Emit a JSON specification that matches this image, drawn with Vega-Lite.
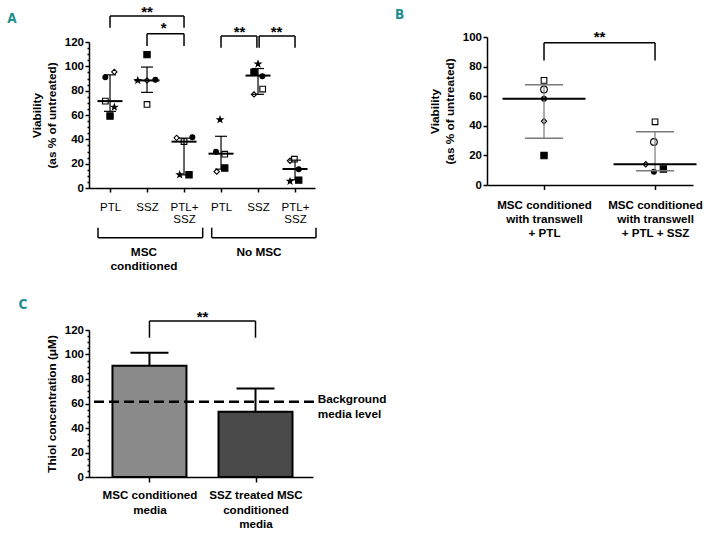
{
  "$schema": "https://vega.github.io/schema/vega-lite/v6.json",
  "padding": {"left": 7, "top": 4, "right": 5, "bottom": 4},
  "columns": 2,
  "bounds": "flush",
  "spacing": {"column": 172, "row": 142},
  "config": {
    "view": {"stroke": null},
    "font": "Liberation Sans, Arial, sans-serif",
    "axis": {"grid": false, "domainColor": "#000", "domainWidth": 1.5, "tickColor": "#000", "tickWidth": 1.5, "labelColor": "#000", "titleColor": "#000", "labelFont": "Liberation Sans, Arial, sans-serif", "titleFont": "Liberation Sans, Arial, sans-serif", "labelFontWeight": "bold", "titleFontWeight": "bold", "labelFontSize": 11.5, "titleFontSize": 11.8, "labelOverlap": false, "labelFlush": false, "labelBound": false, "tickCount": 40},
    "legend": {"disable": true}
  },
  "datasets": {
    "aPts": [
      {"x": 0.874, "y": 91.1, "m": "fc"}, {"x": 1.117, "y": 95.4, "m": "od"}, {"x": 0.874, "y": 71.4, "m": "os"}, {"x": 1.117, "y": 66.5, "m": "st"}, {"x": 1.0, "y": 59.2, "m": "fs"},
      {"x": 2.0, "y": 109.6, "m": "fs"}, {"x": 1.75, "y": 88.4, "m": "st"}, {"x": 2.0, "y": 88.4, "m": "od"}, {"x": 2.225, "y": 88.9, "m": "fc"}, {"x": 2.0, "y": 68.7, "m": "os"},
      {"x": 2.8, "y": 41.2, "m": "od"}, {"x": 3.225, "y": 41.7, "m": "fc"}, {"x": 3.0, "y": 38.2, "m": "os"}, {"x": 2.883, "y": 10.9, "m": "st"}, {"x": 3.135, "y": 10.9, "m": "fs"},
      {"x": 3.973, "y": 56.2, "m": "st"}, {"x": 3.865, "y": 29.7, "m": "fc"}, {"x": 4.1, "y": 27.8, "m": "os"}, {"x": 3.883, "y": 13.4, "m": "od"}, {"x": 4.1, "y": 16.4, "m": "fs"},
      {"x": 5.0, "y": 102, "m": "st"}, {"x": 4.892, "y": 95.2, "m": "fs"}, {"x": 5.117, "y": 91.9, "m": "fc"}, {"x": 4.892, "y": 76.9, "m": "od"}, {"x": 5.126, "y": 81.3, "m": "os"},
      {"x": 5.982, "y": 23.7, "m": "os"}, {"x": 5.865, "y": 22.4, "m": "od"}, {"x": 6.1, "y": 15.5, "m": "fc"}, {"x": 5.865, "y": 5.5, "m": "st"}, {"x": 6.1, "y": 6.5, "m": "fs"}
    ],
    "aStats": [
      {"x": 1, "y": 71.4, "lo": 63, "hi": 93},
      {"x": 2, "y": 88.4, "lo": 78.6, "hi": 99.4},
      {"x": 3, "y": 38.1, "lo": 10.8, "hi": 41},
      {"x": 4, "y": 28.2, "lo": 15.5, "hi": 42.5},
      {"x": 5, "y": 92.4, "lo": 77, "hi": 98.2},
      {"x": 6, "y": 15.6, "lo": 6.8, "hi": 22.9}
    ],
    "aBr": [
      {"x": 1, "x2": 3, "y": 141.4, "yd": 131.7},
      {"x": 2, "x2": 3, "y": 126.8, "yd": 116.7},
      {"x": 4, "x2": 4.97, "y": 124.9, "yd": 115.3},
      {"x": 5.03, "x2": 6, "y": 124.9, "yd": 115.3}
    ],
    "aSig": [
      {"t": "**", "x": 2, "y": 140.8},
      {"t": "*", "x": 2.45, "y": 127.8},
      {"t": "**", "x": 4.5, "y": 123.7},
      {"t": "**", "x": 5.5, "y": 123.7}
    ],
    "aGrpBr": [
      {"x": 0.675, "x2": 3.505, "y": -40.8, "yd": -32.6},
      {"x": 3.748, "x2": 6.567, "y": -40.8, "yd": -32.6}
    ],
    "aGrp": [
      {"t": "MSC", "x": 1.918, "y": -52.4},
      {"t": "conditioned", "x": 1.918, "y": -64.1},
      {"t": "No MSC", "x": 5.027, "y": -52.4}
    ],
    "aLet": [{"t": "A", "x": -1.776, "y": 135.9}],
    "bPts": [
      {"x": 1, "y": 70.7, "m": "os"}, {"x": 1, "y": 64.6, "m": "oc"}, {"x": 1, "y": 58.2, "m": "fc"}, {"x": 1, "y": 43.1, "m": "od"}, {"x": 1, "y": 19.9, "m": "fs"},
      {"x": 2, "y": 42.7, "m": "os"}, {"x": 1.99, "y": 29.1, "m": "oc"}, {"x": 1.916, "y": 14.0, "m": "od"}, {"x": 1.99, "y": 9.0, "m": "fc"}, {"x": 2.075, "y": 10.8, "m": "fs"}
    ],
    "bStats": [
      {"x": 1, "y": 58.2, "lo": 31.6, "hi": 67.7},
      {"x": 2, "y": 14.0, "lo": 9.7, "hi": 35.9}
    ],
    "bBr": [{"x": 1, "x2": 2, "y": 96.1, "yd": 84.2}],
    "bSig": [{"t": "**", "x": 1.5, "y": 96.8}],
    "bLet": [{"t": "B", "x": -0.342, "y": 112}],
    "cBar": [
      {"x": 1, "y": 90.8, "hi": 101.4, "g": "a"},
      {"x": 2, "y": 53.2, "hi": 72.3, "g": "b"}
    ],
    "cDash": [{"x": 0.477, "x2": 2.56, "y": 61.5}],
    "cNote": [
      {"t": "Background", "x": 2.586, "y": 63.8},
      {"t": "media level", "x": 2.586, "y": 51.5}
    ],
    "cBr": [{"x": 1, "x2": 2, "y": 127.4, "yd": 113.7}],
    "cSig": [{"t": "**", "x": 1.5, "y": 126.4}],
    "cLet": [{"t": "C", "x": -0.235, "y": 136.9}]
  },
  "concat": [
    {
      "width": 226,
      "height": 151,
      "layer": [
        {
          "data": {"name": "aPts"},
          "mark": {"type": "point", "filled": true, "stroke": "#000", "strokeWidth": 1.1, "opacity": 1},
          "encoding": {
            "x": {"field": "x", "type": "quantitative", "scale": {"domain": [0.432, 6.54], "nice": false, "zero": false},
              "axis": {"values": [1, 2, 3, 4, 5, 6], "tickCount": 20, "title": null, "tickSize": 4, "labelPadding": 9, "labelFontWeight": "normal", "labelFontSize": 11.5, "labelLineHeight": 12.3,
                "labelExpr": "datum.value == 3 || datum.value == 6 ? ['PTL+', 'SSZ'] : (datum.value == 1 || datum.value == 4 ? 'PTL' : 'SSZ')"}},
            "y": {"field": "y", "type": "quantitative", "scale": {"domain": [0, 120], "range": [151, 5], "nice": false, "zero": false},
              "axis": {"values": [0, 5, 10, 15, 20, 25, 30, 35, 40, 45, 50, 55, 60, 65, 70, 75, 80, 85, 90, 95, 100, 105, 110, 115, 120], "tickCount": 40, "labelOverlap": false,
                "labelExpr": "datum.value % 20 === 0 ? datum.label : ''",
                "tickSize": {"condition": {"test": "datum.value % 20 === 0", "value": 4}, "value": 2},
                "labelPadding": 1.5, "title": ["Viability", "(as % of untreated)"], "titleLineHeight": 15, "titlePadding": 7}},
            "shape": {"field": "m", "type": "nominal", "legend": null, "scale": {"domain": ["fc", "od", "os", "st", "fs", "oc"], "range": ["circle", "diamond", "square", "M0,-1L0.235,-0.324L0.951,-0.309L0.38,0.124L0.588,0.809L0,0.4L-0.588,0.809L-0.38,0.124L-0.951,-0.309L-0.235,-0.324Z", "square", "circle"]}},
            "fill": {"field": "m", "type": "nominal", "legend": null, "scale": {"domain": ["fc", "od", "os", "st", "fs", "oc"], "range": ["#000", "#fff", "#fff", "#000", "#000", "#fff"]}},
            "size": {"field": "m", "type": "nominal", "legend": null, "scale": {"domain": ["fc", "od", "os", "st", "fs", "oc"], "range": [24, 44, 38, 42, 36, 42]}}
          }
        },
        {
          "data": {"name": "aStats"},
          "mark": {"type": "rule", "color": "#000", "strokeWidth": 1.2},
          "encoding": {
            "x": {"field": "x", "type": "quantitative", "scale": {"domain": [0.432, 6.54], "nice": false, "zero": false}},
            "y": {"field": "lo", "type": "quantitative", "scale": {"domain": [0, 120], "range": [151, 5], "nice": false, "zero": false}},
            "y2": {"field": "hi"}
          }
        },
        {
          "data": {"name": "aStats"},
          "mark": {"type": "tick", "orient": "horizontal", "color": "#000", "size": 12, "thickness": 1.2, "opacity": 1},
          "encoding": {
            "x": {"field": "x", "type": "quantitative", "scale": {"domain": [0.432, 6.54], "nice": false, "zero": false}},
            "y": {"field": "hi", "type": "quantitative", "scale": {"domain": [0, 120], "range": [151, 5], "nice": false, "zero": false}}
          }
        },
        {
          "data": {"name": "aStats"},
          "mark": {"type": "tick", "orient": "horizontal", "color": "#000", "size": 12, "thickness": 1.2, "opacity": 1},
          "encoding": {
            "x": {"field": "x", "type": "quantitative", "scale": {"domain": [0.432, 6.54], "nice": false, "zero": false}},
            "y": {"field": "lo", "type": "quantitative", "scale": {"domain": [0, 120], "range": [151, 5], "nice": false, "zero": false}}
          }
        },
        {
          "data": {"name": "aStats"},
          "mark": {"type": "tick", "orient": "horizontal", "color": "#000", "size": 25, "thickness": 2, "opacity": 1},
          "encoding": {
            "x": {"field": "x", "type": "quantitative", "scale": {"domain": [0.432, 6.54], "nice": false, "zero": false}},
            "y": {"field": "y", "type": "quantitative", "scale": {"domain": [0, 120], "range": [151, 5], "nice": false, "zero": false}}
          }
        },
        {
          "data": {"name": "aBr"},
          "mark": {"type": "rule", "color": "#000", "strokeWidth": 1.5},
          "encoding": {
            "x": {"field": "x", "type": "quantitative", "scale": {"domain": [0.432, 6.54], "nice": false, "zero": false}},
            "x2": {"field": "x2"},
            "y": {"field": "y", "type": "quantitative", "scale": {"domain": [0, 120], "range": [151, 5], "nice": false, "zero": false}}
          }
        },
        {
          "data": {"name": "aBr"},
          "mark": {"type": "rule", "color": "#000", "strokeWidth": 1.5},
          "encoding": {
            "x": {"field": "x", "type": "quantitative", "scale": {"domain": [0.432, 6.54], "nice": false, "zero": false}},
            "y": {"field": "y", "type": "quantitative", "scale": {"domain": [0, 120], "range": [151, 5], "nice": false, "zero": false}},
            "y2": {"field": "yd"}
          }
        },
        {
          "data": {"name": "aBr"},
          "mark": {"type": "rule", "color": "#000", "strokeWidth": 1.5},
          "encoding": {
            "x": {"field": "x2", "type": "quantitative", "scale": {"domain": [0.432, 6.54], "nice": false, "zero": false}},
            "y": {"field": "y", "type": "quantitative", "scale": {"domain": [0, 120], "range": [151, 5], "nice": false, "zero": false}},
            "y2": {"field": "yd"}
          }
        },
        {
          "data": {"name": "aSig"},
          "mark": {"type": "text", "fontSize": 15, "fontWeight": "bold", "baseline": "alphabetic", "align": "center", "color": "#000"},
          "encoding": {
            "x": {"field": "x", "type": "quantitative", "scale": {"domain": [0.432, 6.54], "nice": false, "zero": false}},
            "y": {"field": "y", "type": "quantitative", "scale": {"domain": [0, 120], "range": [151, 5], "nice": false, "zero": false}},
            "text": {"field": "t"}
          }
        },
        {
          "data": {"name": "aGrpBr"},
          "mark": {"type": "rule", "color": "#000", "strokeWidth": 1.5},
          "encoding": {
            "x": {"field": "x", "type": "quantitative", "scale": {"domain": [0.432, 6.54], "nice": false, "zero": false}},
            "x2": {"field": "x2"},
            "y": {"field": "y", "type": "quantitative", "scale": {"domain": [0, 120], "range": [151, 5], "nice": false, "zero": false}}
          }
        },
        {
          "data": {"name": "aGrpBr"},
          "mark": {"type": "rule", "color": "#000", "strokeWidth": 1.5},
          "encoding": {
            "x": {"field": "x", "type": "quantitative", "scale": {"domain": [0.432, 6.54], "nice": false, "zero": false}},
            "y": {"field": "y", "type": "quantitative", "scale": {"domain": [0, 120], "range": [151, 5], "nice": false, "zero": false}},
            "y2": {"field": "yd"}
          }
        },
        {
          "data": {"name": "aGrpBr"},
          "mark": {"type": "rule", "color": "#000", "strokeWidth": 1.5},
          "encoding": {
            "x": {"field": "x2", "type": "quantitative", "scale": {"domain": [0.432, 6.54], "nice": false, "zero": false}},
            "y": {"field": "y", "type": "quantitative", "scale": {"domain": [0, 120], "range": [151, 5], "nice": false, "zero": false}},
            "y2": {"field": "yd"}
          }
        },
        {
          "data": {"name": "aGrp"},
          "mark": {"type": "text", "fontSize": 11.8, "fontWeight": "bold", "baseline": "middle", "align": "center", "color": "#000"},
          "encoding": {
            "x": {"field": "x", "type": "quantitative", "scale": {"domain": [0.432, 6.54], "nice": false, "zero": false}},
            "y": {"field": "y", "type": "quantitative", "scale": {"domain": [0, 120], "range": [151, 5], "nice": false, "zero": false}},
            "text": {"field": "t"}
          }
        },
        {
          "data": {"name": "aLet"},
          "mark": {"type": "text", "fontSize": 13.5, "fontWeight": "bold", "font": "Liberation Sans Narrow, DejaVu Sans Condensed, sans-serif", "baseline": "alphabetic", "align": "left", "color": "#1f8f8e"},
          "encoding": {
            "x": {"field": "x", "type": "quantitative", "scale": {"domain": [0.432, 6.54], "nice": false, "zero": false}},
            "y": {"field": "y", "type": "quantitative", "scale": {"domain": [0, 120], "range": [151, 5], "nice": false, "zero": false}},
            "text": {"field": "t"}
          }
        }
      ]
    },
    {
      "width": 206,
      "height": 148,
      "layer": [
        {
          "data": {"name": "bPts"},
          "mark": {"type": "point", "filled": true, "stroke": "#000", "strokeWidth": 1.1, "opacity": 1},
          "encoding": {
            "x": {"field": "x", "type": "quantitative", "scale": {"domain": [0.4865, 2.342], "nice": false, "zero": false},
              "axis": {"values": [1, 2], "tickCount": 20, "title": null, "tickSize": 4.5, "labelPadding": 10, "labelFontSize": 11.6, "labelLineHeight": 13.9,
                "labelExpr": "datum.value == 1 ? ['MSC conditioned', 'with transwell', '+ PTL'] : ['MSC conditioned', 'with transwell', '+ PTL + SSZ']"}},
            "y": {"field": "y", "type": "quantitative", "scale": {"domain": [0, 100], "nice": false, "zero": false},
              "axis": {"values": [0, 20, 40, 60, 80, 100], "tickCount": 20, "tickSize": 4, "labelPadding": 1.5, "title": ["Viability", "(as % of untreated)"], "titleLineHeight": 15, "titlePadding": 7}},
            "shape": {"field": "m", "type": "nominal", "legend": null, "scale": {"domain": ["fc", "od", "os", "st", "fs", "oc"], "range": ["circle", "diamond", "square", "M0,-1L0.235,-0.324L0.951,-0.309L0.38,0.124L0.588,0.809L0,0.4L-0.588,0.809L-0.38,0.124L-0.951,-0.309L-0.235,-0.324Z", "square", "circle"]}},
            "fill": {"field": "m", "type": "nominal", "legend": null, "scale": {"domain": ["fc", "od", "os", "st", "fs", "oc"], "range": ["#000", "#fff", "#fff", "#000", "#000", "#fff"]}},
            "size": {"field": "m", "type": "nominal", "legend": null, "scale": {"domain": ["fc", "od", "os", "st", "fs", "oc"], "range": [24, 44, 38, 42, 36, 42]}}
          }
        },
        {
          "data": {"name": "bStats"},
          "mark": {"type": "rule", "color": "#7a7a7a", "strokeWidth": 1.2},
          "encoding": {
            "x": {"field": "x", "type": "quantitative", "scale": {"domain": [0.4865, 2.342], "nice": false, "zero": false}},
            "y": {"field": "lo", "type": "quantitative", "scale": {"domain": [0, 100], "nice": false, "zero": false}},
            "y2": {"field": "hi"}
          }
        },
        {
          "data": {"name": "bStats"},
          "mark": {"type": "tick", "orient": "horizontal", "color": "#7a7a7a", "size": 38, "thickness": 1.5, "opacity": 1},
          "encoding": {
            "x": {"field": "x", "type": "quantitative", "scale": {"domain": [0.4865, 2.342], "nice": false, "zero": false}},
            "y": {"field": "hi", "type": "quantitative", "scale": {"domain": [0, 100], "nice": false, "zero": false}}
          }
        },
        {
          "data": {"name": "bStats"},
          "mark": {"type": "tick", "orient": "horizontal", "color": "#7a7a7a", "size": 38, "thickness": 1.5, "opacity": 1},
          "encoding": {
            "x": {"field": "x", "type": "quantitative", "scale": {"domain": [0.4865, 2.342], "nice": false, "zero": false}},
            "y": {"field": "lo", "type": "quantitative", "scale": {"domain": [0, 100], "nice": false, "zero": false}}
          }
        },
        {
          "data": {"name": "bStats"},
          "mark": {"type": "tick", "orient": "horizontal", "color": "#000", "size": 83, "thickness": 2, "opacity": 1},
          "encoding": {
            "x": {"field": "x", "type": "quantitative", "scale": {"domain": [0.4865, 2.342], "nice": false, "zero": false}},
            "y": {"field": "y", "type": "quantitative", "scale": {"domain": [0, 100], "nice": false, "zero": false}}
          }
        },
        {
          "data": {"name": "bBr"},
          "mark": {"type": "rule", "color": "#000", "strokeWidth": 1.5},
          "encoding": {
            "x": {"field": "x", "type": "quantitative", "scale": {"domain": [0.4865, 2.342], "nice": false, "zero": false}},
            "x2": {"field": "x2"},
            "y": {"field": "y", "type": "quantitative", "scale": {"domain": [0, 100], "nice": false, "zero": false}}
          }
        },
        {
          "data": {"name": "bBr"},
          "mark": {"type": "rule", "color": "#000", "strokeWidth": 1.5},
          "encoding": {
            "x": {"field": "x", "type": "quantitative", "scale": {"domain": [0.4865, 2.342], "nice": false, "zero": false}},
            "y": {"field": "y", "type": "quantitative", "scale": {"domain": [0, 100], "nice": false, "zero": false}},
            "y2": {"field": "yd"}
          }
        },
        {
          "data": {"name": "bBr"},
          "mark": {"type": "rule", "color": "#000", "strokeWidth": 1.5},
          "encoding": {
            "x": {"field": "x2", "type": "quantitative", "scale": {"domain": [0.4865, 2.342], "nice": false, "zero": false}},
            "y": {"field": "y", "type": "quantitative", "scale": {"domain": [0, 100], "nice": false, "zero": false}},
            "y2": {"field": "yd"}
          }
        },
        {
          "data": {"name": "bSig"},
          "mark": {"type": "text", "fontSize": 15, "fontWeight": "bold", "baseline": "alphabetic", "align": "center", "color": "#000"},
          "encoding": {
            "x": {"field": "x", "type": "quantitative", "scale": {"domain": [0.4865, 2.342], "nice": false, "zero": false}},
            "y": {"field": "y", "type": "quantitative", "scale": {"domain": [0, 100], "nice": false, "zero": false}},
            "text": {"field": "t"}
          }
        },
        {
          "data": {"name": "bLet"},
          "mark": {"type": "text", "fontSize": 13.5, "fontWeight": "bold", "font": "Liberation Sans Narrow, DejaVu Sans Condensed, sans-serif", "baseline": "alphabetic", "align": "left", "color": "#1f8f8e"},
          "encoding": {
            "x": {"field": "x", "type": "quantitative", "scale": {"domain": [0.4865, 2.342], "nice": false, "zero": false}},
            "y": {"field": "y", "type": "quantitative", "scale": {"domain": [0, 100], "nice": false, "zero": false}},
            "text": {"field": "t"}
          }
        }
      ]
    },
    {
      "width": 224,
      "height": 147,
      "layer": [
        {
          "data": {"name": "cBar"},
          "mark": {"type": "bar", "orient": "vertical", "size": 74, "stroke": "#000", "strokeWidth": 2},
          "encoding": {
            "x": {"field": "x", "type": "quantitative", "scale": {"domain": [0.477, 2.495], "nice": false, "zero": false},
              "axis": {"values": [1, 2], "tickCount": 20, "title": null, "tickSize": 5, "labelPadding": 7.5, "labelFontSize": 11.6, "labelLineHeight": 14.7,
                "labelExpr": "datum.value == 1 ? ['MSC conditioned', 'media'] : ['SSZ treated MSC', 'conditioned', 'media']"}},
            "y": {"field": "y", "type": "quantitative", "scale": {"domain": [0, 120], "nice": false, "zero": false},
              "axis": {"values": [0, 5, 10, 15, 20, 25, 30, 35, 40, 45, 50, 55, 60, 65, 70, 75, 80, 85, 90, 95, 100, 105, 110, 115, 120], "tickCount": 40, "labelOverlap": false,
                "labelExpr": "datum.value % 20 === 0 ? datum.label : ''",
                "tickSize": {"condition": {"test": "datum.value % 20 === 0", "value": 4}, "value": 2},
                "labelPadding": 1.5, "title": "Thiol concentration (μM)", "titlePadding": 7}},
            "y2": {"datum": 0},
            "color": {"field": "g", "type": "nominal", "legend": null, "scale": {"domain": ["a", "b"], "range": ["#8a8a8a", "#4a4a4a"]}}
          }
        },
        {
          "data": {"name": "cBar"},
          "mark": {"type": "rule", "color": "#000", "strokeWidth": 2},
          "encoding": {
            "x": {"field": "x", "type": "quantitative", "scale": {"domain": [0.477, 2.495], "nice": false, "zero": false}},
            "y": {"field": "y", "type": "quantitative", "scale": {"domain": [0, 120], "nice": false, "zero": false}},
            "y2": {"field": "hi"}
          }
        },
        {
          "data": {"name": "cBar"},
          "mark": {"type": "tick", "orient": "horizontal", "color": "#000", "size": 38, "thickness": 2, "opacity": 1},
          "encoding": {
            "x": {"field": "x", "type": "quantitative", "scale": {"domain": [0.477, 2.495], "nice": false, "zero": false}},
            "y": {"field": "hi", "type": "quantitative", "scale": {"domain": [0, 120], "nice": false, "zero": false}}
          }
        },
        {
          "data": {"name": "cDash"},
          "mark": {"type": "rule", "color": "#000", "strokeWidth": 2.5, "strokeDash": [10, 5]},
          "encoding": {
            "x": {"field": "x", "type": "quantitative", "scale": {"domain": [0.477, 2.495], "nice": false, "zero": false}},
            "x2": {"field": "x2"},
            "y": {"field": "y", "type": "quantitative", "scale": {"domain": [0, 120], "nice": false, "zero": false}}
          }
        },
        {
          "data": {"name": "cNote"},
          "mark": {"type": "text", "fontSize": 11.8, "fontWeight": "bold", "baseline": "middle", "align": "left", "color": "#000"},
          "encoding": {
            "x": {"field": "x", "type": "quantitative", "scale": {"domain": [0.477, 2.495], "nice": false, "zero": false}},
            "y": {"field": "y", "type": "quantitative", "scale": {"domain": [0, 120], "nice": false, "zero": false}},
            "text": {"field": "t"}
          }
        },
        {
          "data": {"name": "cBr"},
          "mark": {"type": "rule", "color": "#000", "strokeWidth": 1.5},
          "encoding": {
            "x": {"field": "x", "type": "quantitative", "scale": {"domain": [0.477, 2.495], "nice": false, "zero": false}},
            "x2": {"field": "x2"},
            "y": {"field": "y", "type": "quantitative", "scale": {"domain": [0, 120], "nice": false, "zero": false}}
          }
        },
        {
          "data": {"name": "cBr"},
          "mark": {"type": "rule", "color": "#000", "strokeWidth": 1.5},
          "encoding": {
            "x": {"field": "x", "type": "quantitative", "scale": {"domain": [0.477, 2.495], "nice": false, "zero": false}},
            "y": {"field": "y", "type": "quantitative", "scale": {"domain": [0, 120], "nice": false, "zero": false}},
            "y2": {"field": "yd"}
          }
        },
        {
          "data": {"name": "cBr"},
          "mark": {"type": "rule", "color": "#000", "strokeWidth": 1.5},
          "encoding": {
            "x": {"field": "x2", "type": "quantitative", "scale": {"domain": [0.477, 2.495], "nice": false, "zero": false}},
            "y": {"field": "y", "type": "quantitative", "scale": {"domain": [0, 120], "nice": false, "zero": false}},
            "y2": {"field": "yd"}
          }
        },
        {
          "data": {"name": "cSig"},
          "mark": {"type": "text", "fontSize": 15, "fontWeight": "bold", "baseline": "alphabetic", "align": "center", "color": "#000"},
          "encoding": {
            "x": {"field": "x", "type": "quantitative", "scale": {"domain": [0.477, 2.495], "nice": false, "zero": false}},
            "y": {"field": "y", "type": "quantitative", "scale": {"domain": [0, 120], "nice": false, "zero": false}},
            "text": {"field": "t"}
          }
        },
        {
          "data": {"name": "cLet"},
          "mark": {"type": "text", "fontSize": 13.5, "fontWeight": "bold", "font": "Liberation Sans Narrow, DejaVu Sans Condensed, sans-serif", "baseline": "alphabetic", "align": "left", "color": "#1f8f8e"},
          "encoding": {
            "x": {"field": "x", "type": "quantitative", "scale": {"domain": [0.477, 2.495], "nice": false, "zero": false}},
            "y": {"field": "y", "type": "quantitative", "scale": {"domain": [0, 120], "nice": false, "zero": false}},
            "text": {"field": "t"}
          }
        }
      ]
    }
  ]
}
